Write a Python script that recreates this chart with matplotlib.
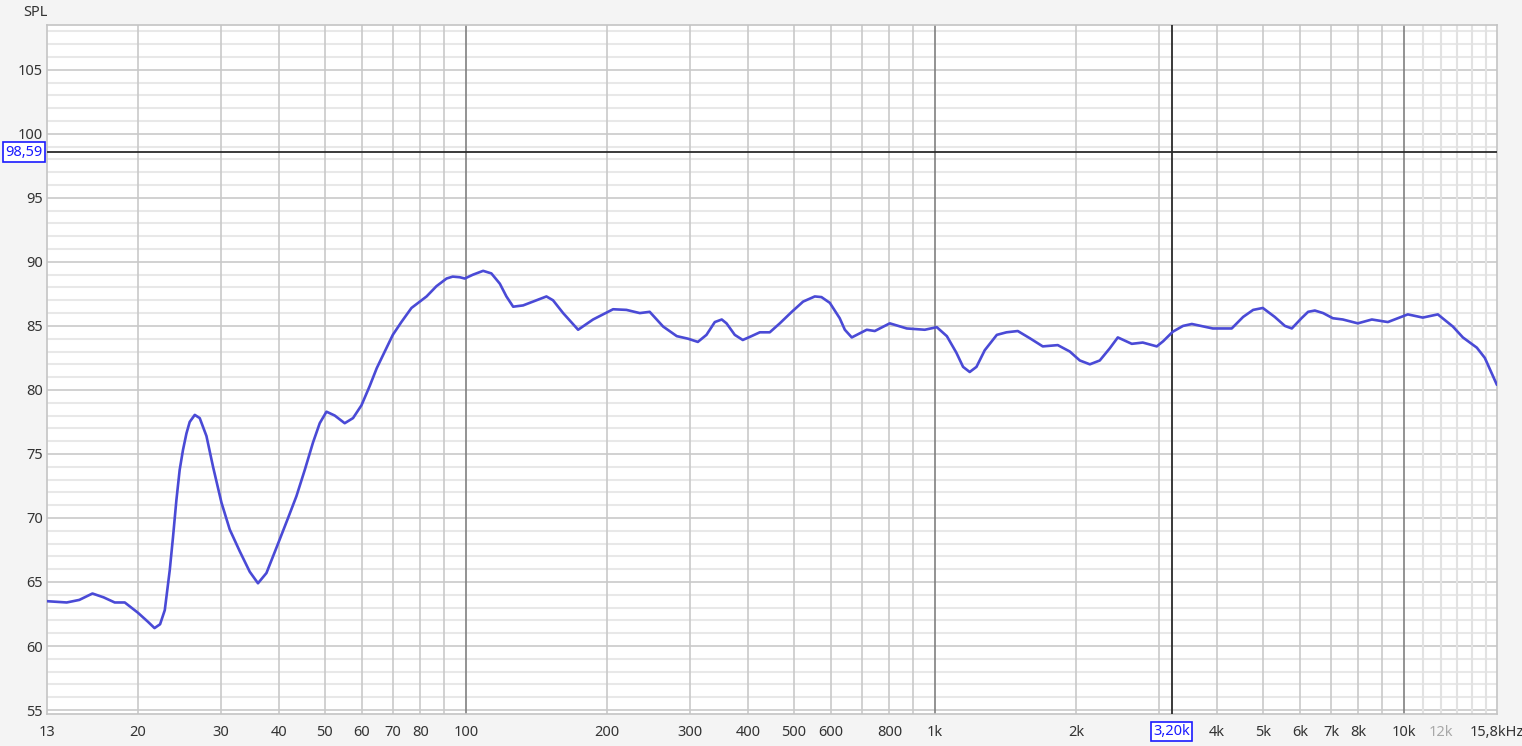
#!/usr/bin/env python3
"""SPL frequency response, REW-style log plot."""
import matplotlib
matplotlib.use("Agg")
import matplotlib.pyplot as plt

freq_hz = [
    12.8, 14.1, 15.0, 16.0, 16.9, 17.85, 18.75, 20.0, 21.0, 21.7, 22.3,
    22.82, 23.38, 23.76, 24.16, 24.55, 24.95, 25.38, 25.79, 26.44, 27.09,
    28.0, 28.92, 30.14, 31.39, 32.97, 34.63, 36.06, 37.59, 39.8, 41.8, 43.55,
    45.37, 47.25, 48.83, 50.47, 52.56, 55.2, 57.5, 59.93, 62.4, 64.6, 67.2,
    69.9, 72.9, 76.6, 82.5, 86.6, 91.0, 93.8, 97.1, 99.5, 103.6, 108.9,
    113.4, 118.2, 122.1, 126.2, 132.5, 139.2, 148.6, 153.5, 161.3, 173.6,
    186.8, 206.1, 220.1, 235, 246.7, 263.5, 281.8, 297.8, 312.5, 326, 339.6,
    351.4, 359.7, 374.6, 389.6, 406.6, 423.6, 444.8, 467.3, 495.6, 524,
    554.8, 573.3, 597.3, 627, 643, 665.3, 690, 716.1, 744.8, 801.7, 871.5,
    952.1, 1010, 1061, 1112, 1149, 1187, 1227, 1278, 1356, 1422, 1503, 1594,
    1699, 1829, 1940, 2038, 2141, 2248, 2361, 2456, 2630, 2776, 2974, 3068,
    3218, 3383, 3532, 3915, 4296, 4543, 4773, 5005, 5307, 5577, 5770, 6051,
    6251, 6461, 6730, 7057, 7413, 7978, 8547, 9246, 10198, 10976, 11817,
    12723, 13363, 14311, 14884, 15790,
]
spl_db = [
    63.5, 63.4, 63.6, 64.1, 63.8, 63.4, 63.4, 62.6, 61.9, 61.4, 61.7,
    62.8, 65.9, 68.5, 71.4, 73.75, 75.3, 76.6, 77.5, 78.05, 77.8,
    76.4, 74.0, 71.2, 69.1, 67.4, 65.8, 64.9, 65.7, 68.0, 70.0, 71.7,
    73.75, 75.9, 77.4, 78.3, 78.0, 77.4, 77.8, 78.8, 80.3, 81.7, 83.0,
    84.3, 85.3, 86.4, 87.3, 88.1, 88.7, 88.85, 88.8, 88.7, 89.0, 89.3,
    89.1, 88.3, 87.3, 86.5, 86.6, 86.9, 87.3, 87.0, 86.0, 84.7,
    85.5, 86.3, 86.25, 86.0, 86.1, 84.95, 84.2, 84.0, 83.75, 84.3, 85.3,
    85.5, 85.2, 84.3, 83.9, 84.2, 84.5, 84.5, 85.2, 86.1, 86.9,
    87.3, 87.25, 86.8, 85.6, 84.7, 84.1, 84.4, 84.7, 84.6, 85.2, 84.8,
    84.7, 84.9, 84.2, 82.9, 81.8, 81.4, 81.8, 83.1, 84.3, 84.5, 84.6, 84.04,
    83.4, 83.5, 83.0, 82.3, 82.0, 82.3, 83.25, 84.1, 83.6, 83.7, 83.4, 83.8,
    84.55, 85.0, 85.15, 84.8, 84.8, 85.7, 86.25, 86.4, 85.7, 85.0, 84.8, 85.6,
    86.1, 86.2, 86.0, 85.6, 85.5, 85.2, 85.5, 85.3, 85.9, 85.65, 85.9,
    84.95, 84.1, 83.3, 82.5, 80.4,
]

# axis ticks / labels
x_ticks = [12.8, 20, 30, 40, 50, 60, 70, 80, 100, 200, 300, 400, 500, 600,
           800, 1000, 2000, 4000, 5000, 6000, 7000, 8000, 10000, 12000, 15800]
x_labels = ["13", "20", "30", "40", "50", "60", "70", "80", "100", "200",
            "300", "400", "500", "600", "800", "1k", "2k", "4k", "5k", "6k",
            "7k", "8k", "10k", "12k", "15,8kHz"]
y_ticks = [55, 60, 65, 70, 75, 80, 85, 90, 95, 100, 105]
cursor_db = 98.59
cursor_hz = 3200

F_MIN, F_MAX = 12.8, 15800
Y_MIN, Y_MAX = 54.69, 108.5

plt.rcParams["font.family"] = ["Noto Sans", "DejaVu Sans"]

W, H = 1522, 746
fig = plt.figure(figsize=(W / 100, H / 100), dpi=100, facecolor="#f4f4f4")
ax = fig.add_axes([47 / W, (H - 714) / H, (1497 - 47) / W, (714 - 25) / H])
ax.set_facecolor("white")
ax.set_xscale("log")
ax.set_xlim(F_MIN, F_MAX)
ax.set_ylim(Y_MIN, Y_MAX)

# grid: 1 dB minor, 5 dB major
for v in range(55, 109):
    c = "#c9c9c9" if v % 5 == 0 else "#e8e8e8"
    ax.axhline(v, color=c, lw=1.2 if v % 5 == 0 else 1.5, zorder=1)

vlines = ([20, 30, 40, 50, 60, 70, 80, 90] +
          [200, 300, 400, 500, 600, 700, 800, 900] +
          [2000, 3000, 4000, 5000, 6000, 7000, 8000, 9000])
for v in vlines:
    ax.axvline(v, color="#c9c9c9", lw=1.2, zorder=1)
for v in [11000, 12000, 13000, 14000, 15000]:
    ax.axvline(v, color="#e2e2e2", lw=1.5, zorder=1)
for v in [100, 1000, 10000]:
    ax.axvline(v, color="#808080", lw=1.2, zorder=1)

# cursors
ax.axhline(cursor_db, color="#2a2a2a", lw=1.3, zorder=3)
ax.axvline(cursor_hz, color="#2a2a2a", lw=1.3, zorder=3)

ax.plot(freq_hz, spl_db, color="#4a4ad6", lw=1.9, zorder=4,
        solid_joinstyle="round", solid_capstyle="round")

for s in ax.spines.values():
    s.set_color("#c4c4c4")
    s.set_linewidth(1.2)

ax.tick_params(length=0, labelsize=10.5, colors="#333333", pad=8)
ax.set_yticks(y_ticks)
ax.set_yticklabels([str(v) for v in y_ticks])
ax.set_xticks(x_ticks)
ax.set_xticklabels(x_labels)
ax.xaxis.set_minor_locator(matplotlib.ticker.NullLocator())
ax.get_xticklabels()[-2].set_color("#a8a8a8")
ax.tick_params(axis="y", pad=3)

# cursor readouts
box = dict(boxstyle="square,pad=0.15", fc="white", ec="#1a1aff", lw=1.2)
fig.text(24 / W, 1 - 152 / H, "98,59", color="#1a1aff", fontsize=10.5,
         ha="center", va="center", bbox=box)
ax.annotate("3,20k", xy=(cursor_hz, 0), xycoords=("data", "axes fraction"),
            xytext=(0, -12.5), textcoords="offset points", color="#1a1aff",
            fontsize=10.5, ha="center", va="center", bbox=box)

fig.text(35 / W, 1 - 13 / H, "SPL", color="#333333", fontsize=10.5,
         ha="center", va="center")

fig.savefig("out.png", dpi=100, facecolor=fig.get_facecolor())
